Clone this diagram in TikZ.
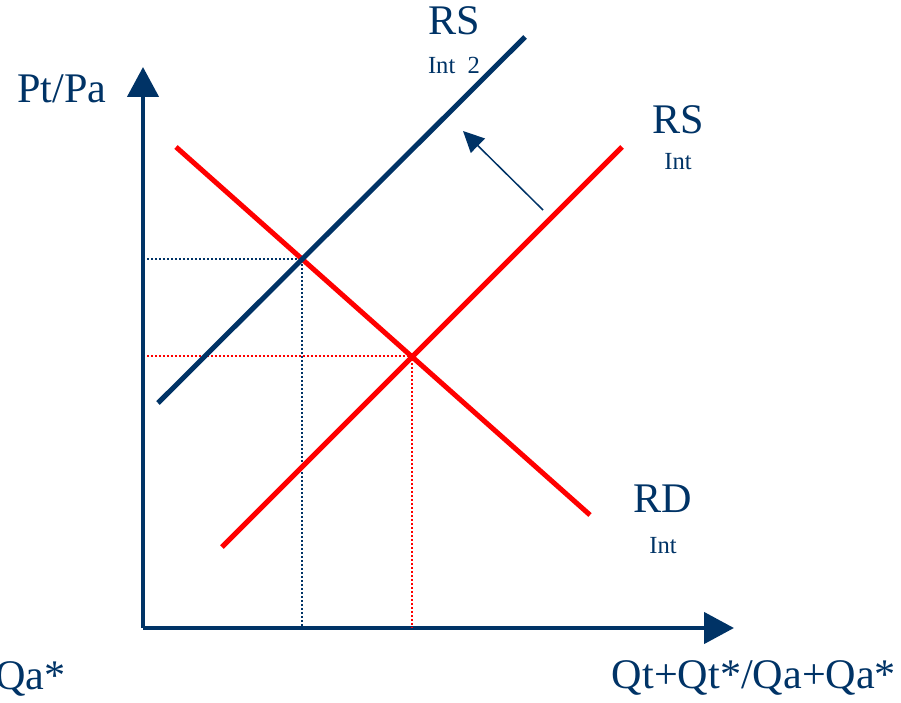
\documentclass[tikz,border=0pt]{standalone}
\usepackage{fontspec}
\setmainfont{Liberation Serif}
\usepackage{xcolor}
\usetikzlibrary{positioning, arrows.meta, calc}
\definecolor{Navy}  {HTML}{003366}
\definecolor{Rouge} {HTML}{FF0000}

\tikzset{
  axisline/.style  = {Navy, line width=0.09cm, -{Triangle[length=0.6cm,width=0.62cm]}},
  curveline/.style = {line width=0.1cm},
  guide/.style     = {line width=0.03cm, dash pattern=on 0.04cm off 0.04cm},
  biglabel/.style  = {Navy, inner sep=0pt, anchor=base, font=\fontsize{24}{28}\selectfont},
  smalllabel/.style= {Navy, inner sep=0pt, anchor=base, font=\fontsize{14}{17}\selectfont},
}

\begin{document}
\begin{tikzpicture}[x=0.02cm, y=-0.02cm]
      \useasboundingbox (0,0) rectangle (901,702);
      % axes
      \coordinate (origin) at (143,628);
      \coordinate (ytop)   at (143,67);
      \coordinate (xend)   at (734,628);
      \draw[axisline] (origin) -- (ytop);
      \draw[axisline] (origin) -- (xend);
      % curves
      \coordinate (rs2a) at (158,403);  \coordinate (rs2b) at (525,37);
      \coordinate (rsa)  at (222,547);  \coordinate (rsb)  at (622,147);
      \coordinate (rda)  at (176,147);  \coordinate (rdb)  at (590,515);
      \coordinate (eqold) at (412,356);
      \coordinate (eqnew) at (302,259);
      % guides
      \draw[guide, Rouge] (147,356) -- (eqold) -- (412,628);
      \draw[guide, Navy]  (147,259) -- (eqnew) -- (302,628);
      \draw[curveline, Rouge] (rsa) -- (rsb);
      \draw[curveline, Rouge] (rda) -- (rdb);
      \draw[curveline, Navy]  (rs2a) -- (rs2b);
      % shift
      \coordinate (shiftfrom) at (543,210);
      \coordinate (shiftto)   at (463,131);
      \draw[Navy, line width=0.03cm, -{Triangle[length=0.42cm,width=0.4cm]}] (shiftfrom) -- (shiftto);
      % labels
      \node[biglabel]   (yname)  at (62,103)  {Pt/Pa};
      \node[biglabel]   (xname)  at (754,688) {Qt+Qt*/Qa+Qa*};
      \node[biglabel, anchor=base east] (xcut) at (66,689) {Qa*};
      \node[biglabel]   (rs2)    at (454,35)  {RS};
      \node[smalllabel] (rs2sub) at (454,74)  {Int\ \ 2};
      \node[biglabel]   (rs)     at (678,134) {RS};
      \node[smalllabel] (rssub)  at (678,170) {Int};
      \node[biglabel]   (rd)     at (663,512) {RD};
      \node[smalllabel] (rdsub)  at (663,553) {Int};
\end{tikzpicture}
\end{document}
